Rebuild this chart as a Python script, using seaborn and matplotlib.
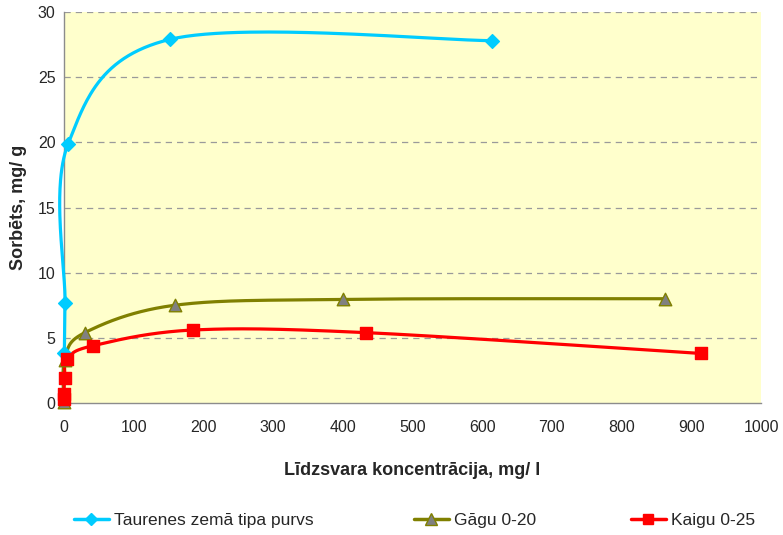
import numpy as np
import pandas as pd
import matplotlib
matplotlib.use("Agg")
import matplotlib.pyplot as plt
from matplotlib.lines import Line2D
import seaborn as sns

# Equilibrium concentration (mg/l) and sorbed amount (mg/g) per sample
taurenes_x = [0.5, 1.5, 6, 152, 614]
taurenes_y = [3.8, 7.7, 19.9, 27.9, 27.8]

gagu_x = [0, 1, 30, 159, 400, 862]
gagu_y = [0.1, 3.3, 5.4, 7.5, 7.95, 8.0]

kaigu_x = [0, 0, 1, 5, 42, 185, 433, 914]
kaigu_y = [0.3, 0.7, 1.9, 3.4, 4.4, 5.6, 5.4, 3.8]

series_names = ["Taurenes zemā tipa purvs", "Gāgu 0-20", "Kaigu 0-25"]
xticks = list(range(0, 1001, 100))
yticks = list(range(0, 31, 5))

W, H, DPI = 783, 535, 100
AX_L, AX_B, AX_W, AX_H = 64, 132, 697, 391  # pixel box of the plot area


def smooth(xs, ys, n=60):
    """Catmull-Rom curve through the points, computed in display proportions."""
    sx, sy = AX_W / 1000.0, AX_H / 30.0
    p = np.column_stack([np.asarray(xs, float) * sx, np.asarray(ys, float) * sy])
    p = np.vstack([p[0], p, p[-1]])
    out = []
    for i in range(1, len(p) - 2):
        p0, p1, p2, p3 = p[i - 1], p[i], p[i + 1], p[i + 2]
        t = np.linspace(0, 1, n)[:, None]
        c1 = p1 + (p2 - p0) / 6.0
        c2 = p2 - (p3 - p1) / 6.0
        seg = ((1 - t) ** 3) * p1 + 3 * ((1 - t) ** 2) * t * c1 + 3 * (1 - t) * t ** 2 * c2 + t ** 3 * p2
        out.append(seg)
    out = np.vstack(out)
    return pd.DataFrame({"x": out[:, 0] / sx, "y": out[:, 1] / sy})


sns.set_theme(style="white")
plt.rcParams["font.family"] = ["Liberation Sans", "DejaVu Sans"]

fig = plt.figure(figsize=(W / DPI, H / DPI), dpi=DPI)
ax = fig.add_axes([AX_L / W, AX_B / H, AX_W / W, AX_H / H])
ax.set_facecolor("#FFFFCC")

styles = [
    dict(color="#00CCFF", marker="D", mfc="#00CCFF", mec="#00CCFF", ms=7, mew=1),
    dict(color="#808000", marker="^", mfc="#808080", mec="#808000", ms=9, mew=1),
    dict(color="#FF0000", marker="s", mfc="#FF0000", mec="#FF0000", ms=8, mew=1),
]
data = [(taurenes_x, taurenes_y), (gagu_x, gagu_y), (kaigu_x, kaigu_y)]

for (xs, ys), st in zip(data, styles):
    curve = smooth(xs, ys)
    sns.lineplot(data=curve, x="x", y="y", sort=False, estimator=None,
                 color=st["color"], linewidth=2.3, ax=ax, zorder=3)
for ln in ax.get_lines():
    ln.set_clip_on(False)
for (xs, ys), st in zip(data, styles):
    pts = pd.DataFrame({"x": xs, "y": ys})
    sns.scatterplot(data=pts, x="x", y="y", marker=st["marker"], s=st["ms"] ** 2,
                    color=st["mfc"], edgecolor=st["mec"], linewidth=st["mew"],
                    ax=ax, zorder=4, clip_on=False)

ax.set_xlim(0, 1000)
ax.set_ylim(0, 30)
ax.set_xticks(xticks)
ax.set_yticks(yticks)
ax.set_xticklabels([str(v) for v in xticks], fontsize=11.5)
ax.set_yticklabels([str(v) for v in yticks], fontsize=11.5)
ax.tick_params(axis="x", pad=12, length=0)
ax.tick_params(axis="y", pad=6, length=0)

for yv in yticks[1:]:
    ax.axhline(yv, color="#9a9a9a", linestyle=(0, (5, 4)), linewidth=0.9, zorder=1)

for side in ["top", "right"]:
    ax.spines[side].set_visible(False)
for side in ["left", "bottom"]:
    ax.spines[side].set_color("#8c8c8c")
    ax.spines[side].set_linewidth(1.0)
    ax.spines[side].set_zorder(2)

ax.set_xlabel("Līdzsvara koncentrācija, mg/ l", fontsize=13, fontweight="bold", labelpad=20)
ax.set_ylabel("Sorbēts, mg/ g", fontsize=13, fontweight="bold", labelpad=8)

# one legend entry per series, placed along the bottom edge
legend_x = [74, 414, 631]
for name, st, lx in zip(series_names, styles, legend_x):
    h = Line2D([0], [0], color=st["color"], linewidth=2.5, marker=st["marker"],
               markerfacecolor=st["mfc"], markeredgecolor=st["mec"], markersize=st["ms"] - 1)
    fig.legend([h], [name], loc="center left", bbox_to_anchor=(lx / W, 1 - 520 / H),
               frameon=False, fontsize=12.5, handlelength=2.0, handletextpad=0.3,
               borderpad=0, borderaxespad=0)

fig.savefig("out.png", dpi=DPI, facecolor="white")
